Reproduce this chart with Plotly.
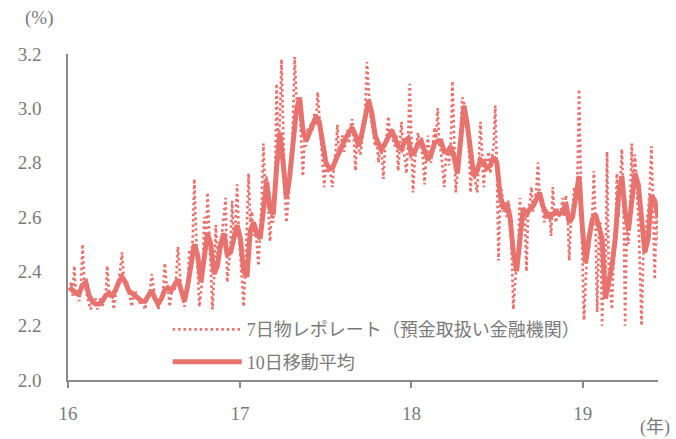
import pandas as pd
import plotly.graph_objects as go

# 7日物レポレート（預金取扱い金融機関）: two readings per week, from 2016-01-04
repo_start = "2016-01-04"
repo_rate = [
    2.33, 2.36, 2.31, 2.42, 2.31, 2.33, 2.29, 2.34, 2.50, 2.37, 2.33, 2.30, 2.28, 2.26, 2.29, 2.28, 2.30, 2.26, 2.28, 2.30,
    2.27, 2.31, 2.30, 2.42, 2.33, 2.30, 2.32, 2.26, 2.31, 2.35, 2.37, 2.41, 2.47, 2.38, 2.35, 2.36, 2.32, 2.30, 2.27, 2.31,
    2.33, 2.30, 2.31, 2.28, 2.30, 2.28, 2.26, 2.29, 2.31, 2.33, 2.39, 2.34, 2.31, 2.28, 2.26, 2.28, 2.30, 2.32, 2.43, 2.36,
    2.33, 2.27, 2.32, 2.35, 2.33, 2.38, 2.49, 2.40, 2.33, 2.30, 2.27, 2.31, 2.36, 2.48, 2.44, 2.52, 2.74, 2.55, 2.40, 2.27,
    2.32, 2.38, 2.60, 2.50, 2.69, 2.52, 2.41, 2.26, 2.38, 2.57, 2.45, 2.50, 2.48, 2.55, 2.60, 2.67, 2.36, 2.45, 2.50, 2.66,
    2.50, 2.58, 2.72, 2.55, 2.45, 2.33, 2.27, 2.40, 2.55, 2.76, 2.58, 2.62, 2.53, 2.56, 2.50, 2.42, 2.55, 2.66, 2.87, 2.70,
    2.75, 2.62, 2.51, 2.62, 2.58, 2.70, 3.09, 2.85, 2.95, 3.18, 2.90, 2.70, 2.58, 2.66, 2.72, 2.80, 2.95, 3.19, 3.05, 2.98,
    3.02, 2.90, 2.75, 2.88, 2.86, 2.93, 2.90, 2.95, 2.92, 2.98, 2.94, 3.06, 2.98, 2.90, 2.82, 2.71, 2.80, 2.76, 2.79, 2.74,
    2.71, 2.80, 2.84, 2.94, 2.83, 2.86, 2.90, 2.84, 2.88, 2.92, 2.87, 2.93, 2.96, 2.89, 2.77, 2.90, 2.85, 2.83, 2.88, 2.93,
    3.00, 3.17, 3.05, 2.98, 2.94, 2.90, 2.86, 2.88, 2.80, 2.86, 2.83, 2.74, 2.86, 2.90, 2.97, 2.89, 2.93, 2.88, 2.86, 2.90,
    2.77, 2.87, 2.95, 2.85, 2.82, 2.76, 2.88, 3.09, 2.86, 2.69, 2.80, 2.86, 2.91, 2.88, 2.85, 2.82, 2.72, 2.80, 2.90, 2.83,
    2.80, 2.86, 2.93, 2.89, 3.00, 2.86, 2.84, 2.78, 2.71, 2.82, 2.85, 2.79, 2.88, 3.10, 2.85, 2.69, 2.76, 2.80, 2.92, 3.04,
    3.02, 2.98, 2.95, 2.85, 2.69, 2.80, 2.76, 2.72, 2.69, 2.80, 2.95, 2.84, 2.71, 2.82, 2.78, 2.84, 2.76, 2.82, 2.86, 3.01,
    2.78, 2.44, 2.66, 2.70, 2.62, 2.64, 2.60, 2.66, 2.62, 2.48, 2.26, 2.35, 2.42, 2.50, 2.67, 2.58, 2.64, 2.60, 2.40, 2.62,
    2.65, 2.71, 2.62, 2.66, 2.70, 2.80, 2.68, 2.66, 2.62, 2.58, 2.63, 2.60, 2.62, 2.53, 2.71, 2.61, 2.58, 2.63, 2.60, 2.62,
    2.67, 2.60, 2.68, 2.62, 2.44, 2.58, 2.62, 2.71, 2.66, 2.74, 3.07, 2.70, 2.45, 2.22, 2.40, 2.50, 2.48, 2.56, 2.60, 2.77,
    2.58, 2.25, 2.52, 2.58, 2.20, 2.40, 2.30, 2.84, 2.40, 2.32, 2.26, 2.45, 2.52, 2.76, 2.60, 2.72, 2.85, 2.68, 2.20, 2.55,
    2.50, 2.62, 2.87, 2.70, 2.83, 2.72, 2.60, 2.42, 2.20, 2.45, 2.50, 2.58, 2.62, 2.70, 2.86, 2.65, 2.37, 2.60, 2.55, 2.48,
]

# 10日移動平均: weekly readings, from 2016-01-04
ma_start = "2016-01-04"
moving_avg = [
    2.34, 2.33, 2.32, 2.32, 2.35, 2.36, 2.31, 2.29, 2.28, 2.28,
    2.29, 2.31, 2.32, 2.31, 2.33, 2.36, 2.38, 2.36, 2.33, 2.32,
    2.31, 2.30, 2.29, 2.29, 2.31, 2.33, 2.30, 2.28, 2.30, 2.33,
    2.34, 2.33, 2.35, 2.37, 2.33, 2.29, 2.35, 2.44, 2.50, 2.46,
    2.36, 2.45, 2.54, 2.50, 2.39, 2.42, 2.50, 2.54, 2.46, 2.47,
    2.53, 2.57, 2.52, 2.40, 2.38, 2.55, 2.58, 2.54, 2.52, 2.62,
    2.73, 2.63, 2.61, 2.78, 2.91, 2.80, 2.67, 2.75, 2.89, 2.99,
    3.04, 2.92, 2.88, 2.91, 2.94, 2.97, 2.95, 2.87, 2.80, 2.78,
    2.78, 2.81, 2.84, 2.87, 2.89, 2.91, 2.93, 2.90, 2.86, 2.91,
    2.98, 3.03, 2.98, 2.90, 2.87, 2.85, 2.87, 2.90, 2.92, 2.89,
    2.86, 2.85, 2.88, 2.89, 2.83, 2.84, 2.87, 2.88, 2.84, 2.81,
    2.83, 2.87, 2.88, 2.88, 2.84, 2.84, 2.86, 2.82, 2.76, 2.90,
    3.01, 2.94, 2.84, 2.75, 2.77, 2.81, 2.80, 2.78, 2.79, 2.82,
    2.80, 2.68, 2.63, 2.65, 2.60, 2.47, 2.40, 2.52, 2.63, 2.61,
    2.63, 2.64, 2.67, 2.69, 2.64, 2.61, 2.60, 2.61, 2.62, 2.61,
    2.62, 2.65, 2.58, 2.60, 2.68, 2.75, 2.56, 2.43, 2.52, 2.59,
    2.61, 2.57, 2.52, 2.30, 2.36, 2.42, 2.52, 2.68, 2.75, 2.62,
    2.55, 2.66, 2.76, 2.72, 2.58, 2.47, 2.52, 2.68, 2.66, 2.60,
]

year_ticks = ["2016-01-01", "2017-01-01", "2018-01-01", "2019-01-01"]
year_labels = ["16", "17", "18", "19"]
y_ticks = [2.0, 2.2, 2.4, 2.6, 2.8, 3.0, 3.2]

repo_dates = pd.date_range(repo_start, periods=len(repo_rate), freq="84h")
ma_dates = pd.date_range(ma_start, periods=len(moving_avg), freq="7D")

color = "#E8736E"
grey = "#7a7a7a"
axis_grey = "#8a8a8a"
font_family = "Liberation Serif, DejaVu Serif, Noto Sans CJK JP, serif"

fig = go.Figure()
fig.add_trace(go.Scatter(
    x=repo_dates, y=repo_rate, mode="lines",
    name="7日物レポレート（預金取扱い金融機関）",
    line=dict(color=color, width=2.7, dash="2.5px,2.9px"),
    legendgroup="a",
))
fig.add_trace(go.Scatter(
    x=ma_dates, y=moving_avg, mode="lines",
    name="10日移動平均",
    line=dict(color=color, width=5),
    legendgroup="b",
))

fig.update_layout(
    width=676, height=439,
    margin=dict(l=68, r=18, t=54, b=59),
    paper_bgcolor="white", plot_bgcolor="white",
    font=dict(family=font_family, size=19, color=grey),
    showlegend=True,
    legend=dict(
        x=0.169, y=0.211, xanchor="left", yanchor="top",
        bgcolor="rgba(0,0,0,0)", borderwidth=0,
        font=dict(size=18, color=grey),
        itemwidth=69, traceorder="grouped", tracegroupgap=6,
    ),
    xaxis=dict(
        type="date", automargin=False,
        range=["2016-01-01", "2019-06-10"],
        tickvals=year_ticks, ticktext=year_labels,
        ticks="outside", ticklen=6, tickwidth=1.5, tickcolor=axis_grey,
        showline=True, linecolor=axis_grey, linewidth=1.5,
        showgrid=False, zeroline=False,
        ticklabelstandoff=9,
        tickfont=dict(size=19, color=grey),
    ),
    yaxis=dict(
        range=[2.0, 3.2], automargin=False,
        tickvals=y_ticks, ticktext=[f"{v:.1f}" for v in y_ticks],
        ticks="", showline=True, linecolor=axis_grey, linewidth=1.5,
        showgrid=False, zeroline=False,
        ticklabelstandoff=21,
        tickfont=dict(size=19, color=grey),
    ),
    annotations=[
        dict(text="(%)", xref="paper", yref="paper", x=-0.05, y=1.0,
             yshift=36, xanchor="center", yanchor="middle", showarrow=False,
             font=dict(size=19, color=grey)),
        dict(text="(年)", xref="paper", yref="paper", x=0.995, y=0.0,
             yshift=-47, xanchor="center", yanchor="middle", showarrow=False,
             font=dict(size=18, color=grey)),
    ],
)

fig.write_html(
    "out.html",
    config={"displayModeBar": False},
    post_script="document.body.style.margin='0';document.body.style.padding='0';",
)
